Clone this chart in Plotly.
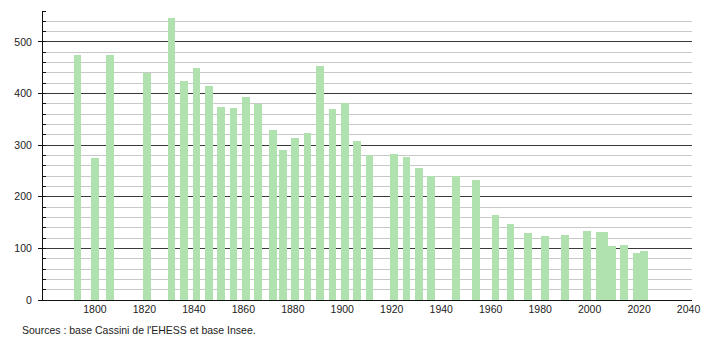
import plotly.graph_objects as go

years = [1793, 1800, 1806, 1821, 1831, 1836, 1841, 1846, 1851, 1856, 1861, 1866,
         1872, 1876, 1881, 1886, 1891, 1896, 1901, 1906, 1911, 1921, 1926, 1931,
         1936, 1946, 1954, 1962, 1968, 1975, 1982, 1990, 1999, 2004, 2006, 2009,
         2014, 2019, 2022]
population = [474, 276, 474, 439, 547, 425, 450, 415, 374, 373, 394, 380,
              330, 291, 314, 324, 454, 371, 382, 309, 281, 283, 277, 256,
              241, 241, 233, 165, 147, 130, 124, 126, 134, 131, 131, 105,
              107, 91, 95]
x_ticks = [1800, 1820, 1840, 1860, 1880, 1900, 1920, 1940, 1960, 1980, 2000, 2020, 2040]
source_text = "Sources : base Cassini de l'EHESS et base Insee."

fig = go.Figure()
fig.add_trace(go.Bar(
    x=years, y=population, width=3.1,
    marker=dict(color="rgb(175,226,175)", line=dict(width=0)),
    hoverinfo="x+y",
))

fig.update_layout(
    width=710, height=340,
    margin=dict(l=43, r=10, t=11, b=40, pad=0),
    paper_bgcolor="white", plot_bgcolor="white",
    showlegend=False,
    font=dict(family="Liberation Sans, Arial, sans-serif", size=10, color="#222"),
    bargap=0,
    xaxis=dict(
        range=[1779, 2041.4], tickmode="array", tickvals=x_ticks,
        ticktext=[str(t) for t in x_ticks], showgrid=False,
        showline=True, linecolor="#111", linewidth=1, ticks="",
        zeroline=False, tickfont=dict(size=10.5), ticklabelstandoff=-1,
    ),
    yaxis=dict(
        range=[0, 560], tick0=0, dtick=100, showgrid=True,
        gridcolor="#3a3a3a", gridwidth=1,
        showline=True, linecolor="#111", linewidth=1,
        ticks="outside", ticklen=4, tickcolor="#111",
        zeroline=False, tickfont=dict(size=10.5),
        ticklabelstandoff=4,
        minor=dict(dtick=20, showgrid=True, gridcolor="#c8c8c8", gridwidth=1,
                   ticks="inside", ticklen=3, tickcolor="#111"),
    ),
    annotations=[dict(
        text=source_text, xref="paper", yref="paper",
        x=(20 - 43) / 657, y=-30 / 289, xanchor="left", yanchor="middle",
        showarrow=False, font=dict(size=10.5, color="#222"),
    )],
)

fig.write_html("out.html")
